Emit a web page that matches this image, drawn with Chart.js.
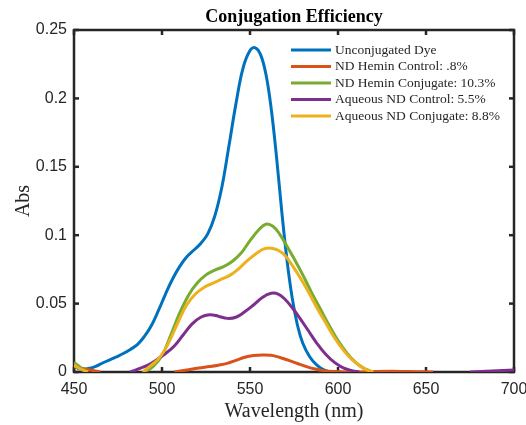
<!DOCTYPE html>
<html>
<head>
<meta charset="utf-8">
<script src="https://cdn.jsdelivr.net/npm/chart.js@4.4.0/dist/chart.umd.min.js"></script>
<style>
  html, body { margin: 0; padding: 0; background: #fff; }
</style>
</head>
<body>
<canvas id="absChart" width="526" height="425"></canvas>
<script>
/* --------------- Series names and colours --------------------- */
const seriesLabels = [
  'Unconjugated Dye',
  'ND Hemin Control: .8%',
  'ND Hemin Conjugate: 10.3%',
  'Aqueous ND Control: 5.5%',
  'Aqueous ND Conjugate: 8.8%',
];
const seriesColors = ['#0072BD', '#D95319', '#77AC30', '#7E2F8E', '#EDB120'];

/* --------------- Spectra (wavelength nm / absorbance) --------------------- */
// null = gap, the trace dips below zero there
const dyeWl = [450, 454, 458, 462, 466, 470, 474, 478, 482, 486, 490, 494, 498, 502, 506, 510, 514, 518, 522, 526, 530, 534, 538, 542, 546, 550, 553, 556, 559, 562, 565, 568, 571, 574, 577, 580, 584, 588, 592, 596];
const dyeAbs = [0.004, 0.002, 0.0025, 0.004, 0.0064, 0.0087, 0.011, 0.0135, 0.0165, 0.020, 0.026, 0.034, 0.045, 0.057, 0.068, 0.077, 0.084, 0.089, 0.094, 0.101, 0.114, 0.135, 0.165, 0.196, 0.222, 0.235, 0.237, 0.232, 0.218, 0.193, 0.158, 0.118, 0.082, 0.054, 0.034, 0.021, 0.011, 0.005, 0.0015, 0];

const heminCtrlWl = [450, 457, 465, 480, 507, 514, 521, 527, 532, 537, 542, 547, 552, 557, 562, 567, 572, 577, 582, 587, 592, 598, 604, 612, 620, 630, 640, 648, 654];
const heminCtrlAbs = [0.004, 0.002, 0, null, 0, 0.0015, 0.003, 0.004, 0.005, 0.0063, 0.0085, 0.0108, 0.0121, 0.0125, 0.0122, 0.0106, 0.0085, 0.0062, 0.004, 0.0022, 0.001, 0.0003, 0, 0, 0.0003, 0.0005, 0.0003, 0.0002, 0];

const heminConjWl = [450, 454, 458, 470, 490, 495, 500, 505, 510, 515, 520, 525, 530, 535, 540, 545, 550, 555, 559, 563, 567, 571, 575, 580, 585, 590, 595, 600, 605, 610, 615, 620];
const heminConjAbs = [0.007, 0.003, 0, null, 0, 0.004, 0.012, 0.027, 0.043, 0.056, 0.065, 0.071, 0.0745, 0.077, 0.081, 0.087, 0.096, 0.104, 0.108, 0.1065, 0.1005, 0.092, 0.083, 0.071, 0.058, 0.046, 0.034, 0.023, 0.014, 0.007, 0.0025, 0];

const aqCtrlWl = [482, 487, 492, 497, 502, 507, 512, 517, 522, 527, 532, 537, 542, 547, 552, 557, 562, 566, 570, 574, 578, 583, 588, 593, 598, 603, 608, 612, 650, 675, 700];
const aqCtrlAbs = [0, 0.0025, 0.005, 0.009, 0.0135, 0.019, 0.027, 0.035, 0.040, 0.0418, 0.0408, 0.0392, 0.040, 0.044, 0.049, 0.0545, 0.0575, 0.057, 0.053, 0.047, 0.040, 0.0305, 0.021, 0.013, 0.007, 0.003, 0.001, 0, null, 0, 0.0015];

const aqConjWl = [450, 454, 458, 470, 489, 494, 499, 504, 509, 514, 519, 524, 529, 534, 539, 544, 549, 554, 558, 562, 566, 570, 574, 578, 583, 588, 593, 598, 603, 608, 614, 620];
const aqConjAbs = [0.005, 0.002, 0, null, 0, 0.005, 0.011, 0.022, 0.036, 0.049, 0.057, 0.062, 0.065, 0.068, 0.071, 0.076, 0.082, 0.087, 0.090, 0.0905, 0.089, 0.085, 0.078, 0.070, 0.059, 0.047, 0.036, 0.025, 0.016, 0.009, 0.003, 0];

/* --------------- Axis ticks --------------------- */
const xTicks = [450, 500, 550, 600, 650, 700];
const yTicks = [0, 0.05, 0.1, 0.15, 0.2, 0.25];
const yTickLabels = ['0', '0.05', '0.1', '0.15', '0.2', '0.25'];

const toPoints = (xs, ys) => xs.map((x, i) => ({ x: x, y: ys[i] }));
const spectra = [
  toPoints(dyeWl, dyeAbs),
  toPoints(heminCtrlWl, heminCtrlAbs),
  toPoints(heminConjWl, heminConjAbs),
  toPoints(aqCtrlWl, aqCtrlAbs),
  toPoints(aqConjWl, aqConjAbs),
];

const axisColor = '#262626';

/* --------------- Box with inward ticks (matlab style) --------------------- */
const axesBox = {
  id: 'axesBox',
  beforeDatasetsDraw(chart) {
    const { ctx, chartArea: a, scales: { x, y } } = chart;
    const seg = (x1, y1, x2, y2) => {
      ctx.beginPath();
      ctx.moveTo(x1, y1);
      ctx.lineTo(x2, y2);
      ctx.stroke();
    };
    ctx.save();
    ctx.strokeStyle = axisColor;
    ctx.lineWidth = 2.5;
    ctx.strokeRect(a.left, a.top, a.right - a.left, a.bottom - a.top);
    xTicks.forEach((v) => {
      const px = x.getPixelForValue(v);
      seg(px, a.bottom, px, a.bottom - 5);
      seg(px, a.top, px, a.top + 5);
    });
    yTicks.forEach((v) => {
      const py = y.getPixelForValue(v);
      seg(a.left, py, a.left + 5, py);
      seg(a.right, py, a.right - 5, py);
    });
    ctx.restore();
  },
};

/* --------------- Title and legend drawn on top --------------------- */
const titleLegend = {
  id: 'titleLegend',
  afterDraw(chart) {
    const { ctx, chartArea: a } = chart;
    ctx.save();
    ctx.fillStyle = '#000';
    ctx.font = 'bold 18px "Liberation Serif"';
    ctx.textAlign = 'center';
    ctx.textBaseline = 'middle';
    ctx.fillText('Conjugation Efficiency', (a.left + a.right) / 2, a.top - 13);

    const lx = a.left + 217;
    const ly = a.top + 20;
    ctx.font = '13.5px "Liberation Serif"';
    ctx.textAlign = 'left';
    chart.data.datasets.forEach((ds, i) => {
      const yy = ly + i * 16.5;
      ctx.strokeStyle = ds.borderColor;
      ctx.lineWidth = 3;
      ctx.beginPath();
      ctx.moveTo(lx, yy);
      ctx.lineTo(lx + 40, yy);
      ctx.stroke();
      ctx.fillStyle = axisColor;
      ctx.fillText(ds.label, lx + 44, yy);
    });
    ctx.restore();
  },
};

new Chart(document.getElementById('absChart'), {
  type: 'line',
  plugins: [axesBox, titleLegend],
  data: {
    datasets: spectra.map((pts, i) => ({
      label: seriesLabels[i],
      data: pts,
      borderColor: seriesColors[i],
      backgroundColor: seriesColors[i],
      borderWidth: 3,
      pointRadius: 0,
      fill: false,
      spanGaps: false,
      tension: 0.4,
      order: spectra.length - i,
    })),
  },
  options: {
    responsive: false,
    animation: false,
    devicePixelRatio: 1,
    layout: { padding: { top: 30, right: 12, left: 0, bottom: 0 } },
    plugins: {
      legend: { display: false },
      title: { display: false },
      tooltip: { enabled: false },
    },
    scales: {
      x: {
        type: 'linear',
        min: 450,
        max: 700,
        afterBuildTicks: (s) => { s.ticks = xTicks.map((v) => ({ value: v })); },
        afterFit: (s) => { s.height = 53; s.paddingLeft = 0; s.paddingRight = 0; },
        grid: { display: false, drawTicks: false },
        border: { display: false },
        ticks: {
          color: axisColor,
          font: { family: 'Liberation Sans', size: 16 },
          padding: 8,
          maxRotation: 0,
          autoSkip: false,
        },
        title: {
          display: true,
          text: 'Wavelength (nm)',
          color: axisColor,
          font: { family: 'Liberation Serif', size: 20 },
          padding: { top: 0, bottom: 1 },
        },
      },
      y: {
        min: 0,
        max: 0.25,
        afterBuildTicks: (s) => { s.ticks = yTicks.map((v) => ({ value: v })); },
        afterFit: (s) => { s.width = 74; s.paddingTop = 0; s.paddingBottom = 0; },
        grid: { display: false, drawTicks: false },
        border: { display: false },
        ticks: {
          color: axisColor,
          font: { family: 'Liberation Sans', size: 16 },
          padding: 7,
          callback: (v, i) => yTickLabels[i],
        },
        title: {
          display: true,
          text: 'Abs',
          color: axisColor,
          font: { family: 'Liberation Serif', size: 20 },
          padding: { top: 12, bottom: 0 },
        },
      },
    },
  },
});
</script>
</body>
</html>
